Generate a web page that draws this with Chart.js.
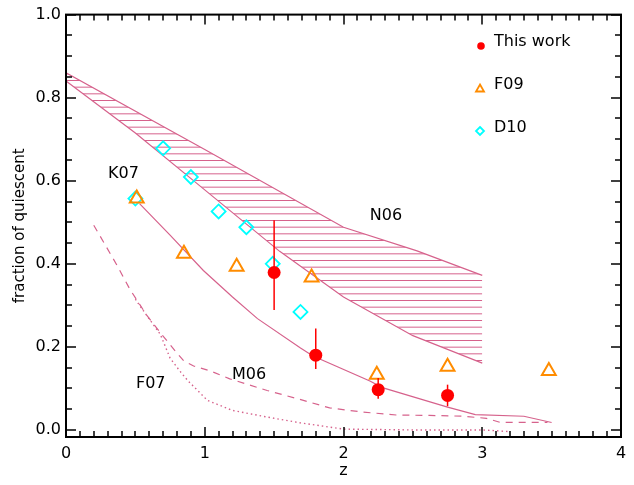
<!DOCTYPE html>
<html>
<head>
<meta charset="utf-8">
<script src="https://cdn.jsdelivr.net/npm/chart.js@4.4.0/dist/chart.umd.min.js"></script>
<style>
  html, body { margin: 0; padding: 0; background: #fff; }
</style>
</head>
<body>
<canvas id="chart" width="634" height="485"></canvas>
<script>
// Data
var xTicks = [0, 1, 2, 3, 4];
var yTicks = [0.0, 0.2, 0.4, 0.6, 0.8, 1.0];

// This work (filled red circles with error bars)
var workZ = [1.5, 1.8, 2.25, 2.75];
var workF = [0.379, 0.18, 0.097, 0.083];
var workLo = [0.289, 0.147, 0.075, 0.057];
var workHi = [0.505, 0.244, 0.125, 0.109];

// F09 (open triangles)
var f09Z = [0.51, 0.85, 1.23, 1.77, 2.24, 2.75, 3.48];
var f09F = [0.557, 0.424, 0.393, 0.367, 0.133, 0.152, 0.142];

// D10 (open diamonds)
var d10Z = [0.5, 0.7, 0.9, 1.1, 1.3, 1.49, 1.69];
var d10F = [0.557, 0.678, 0.609, 0.526, 0.488, 0.40, 0.284];

// N06 hatched band
var n06UpZ = [0, 1, 2, 2.53, 3];
var n06UpF = [0.86, 0.675, 0.488, 0.431, 0.372];
var n06LoZ = [0, 0.5, 1, 1.54, 2, 2.5, 3];
var n06LoF = [0.84, 0.715, 0.578, 0.43, 0.32, 0.227, 0.161];

// K07 solid curve
var k07Z = [0.53, 0.75, 0.99, 1.2, 1.38, 1.69, 1.78, 2.19, 2.28, 2.75, 2.95, 3.3, 3.5];
var k07F = [0.545, 0.469, 0.384, 0.32, 0.268, 0.197, 0.178, 0.118, 0.102, 0.055, 0.037, 0.033, 0.018];

// M06 dashed curve
var m06Z = [0.2, 0.37, 0.46, 0.58, 0.69, 0.8, 0.85, 0.92, 1.04, 1.18, 1.45, 1.66, 1.9, 2.14, 2.38, 2.62, 2.86, 3.03, 3.13, 3.47];
var m06F = [0.493, 0.395, 0.339, 0.277, 0.23, 0.185, 0.166, 0.154, 0.142, 0.123, 0.095, 0.076, 0.053, 0.043, 0.036, 0.035, 0.033, 0.028, 0.018, 0.018];

// F07 dotted curve
var f07Z = [0.5, 0.53, 0.68, 0.75, 0.82, 0.88, 1.02, 1.2, 1.45, 1.69, 2.0, 2.5, 3.0, 3.2];
var f07F = [0.315, 0.30, 0.23, 0.173, 0.142, 0.118, 0.071, 0.047, 0.031, 0.017, 0.002, 0.0, 0.0, -0.004];

// curve labels
var curveNames = ['K07', 'N06', 'F07', 'M06'];
var curveNameZ = [0.303, 2.19, 0.504, 1.196];
var curveNameF = [0.607, 0.505, 0.102, 0.123];

var pink = 'rgb(214,98,140)';
var orange = '#ff8c00';
var cyan = '#00ffff';
var red = '#ff0000';
var font = "'DejaVu Sans', sans-serif";

function pts(xs, ys) {
  return xs.map(function (x, i) { return { x: x, y: ys[i] }; });
}

// horizontal hatch pattern
var pc = document.createElement('canvas');
pc.width = 10; pc.height = 20;
var pctx = pc.getContext('2d');
pctx.strokeStyle = pink;
pctx.lineWidth = 1;
[0.5, 7.17, 13.83].forEach(function (y) {
  pctx.beginPath(); pctx.moveTo(0, y); pctx.lineTo(10, y); pctx.stroke();
});
var hatch = pctx.createPattern(pc, 'repeat');

// inward ticks on all four sides + frame
var frame = {
  id: 'frame',
  afterDraw: function (c) {
    var ctx = c.ctx, a = c.chartArea, xs = c.scales.x, ys = c.scales.y;
    ctx.save();
    ctx.strokeStyle = '#000';
    ctx.lineWidth = 1.5;
    function ln(x1, y1, x2, y2) { ctx.beginPath(); ctx.moveTo(x1, y1); ctx.lineTo(x2, y2); ctx.stroke(); }
    for (var i = 0; i <= 40; i++) {
      var px = Math.round(xs.getPixelForValue(i / 10));
      var len = i % 10 === 0 ? 10 : 6;
      ln(px, a.bottom, px, a.bottom - len);
      ln(px, a.top, px, a.top + len);
    }
    for (var j = 0; j <= 20; j++) {
      var py = Math.round(ys.getPixelForValue(j * 0.05));
      var l2 = j % 4 === 0 ? 10 : 6;
      ln(a.left, py, a.left + l2, py);
      ln(a.right, py, a.right - l2, py);
    }
    ctx.lineWidth = 2;
    ctx.strokeRect(a.left, a.top, a.right - a.left, a.bottom - a.top);
    ctx.restore();
  }
};

// error bars, curve names and legend
var extras = {
  id: 'extras',
  afterDatasetsDraw: function (c) {
    var ctx = c.ctx, xs = c.scales.x, ys = c.scales.y;
    ctx.save();
    ctx.strokeStyle = red;
    ctx.lineWidth = 1.5;
    for (var i = 0; i < workZ.length; i++) {
      var px = xs.getPixelForValue(workZ[i]);
      ctx.beginPath();
      ctx.moveTo(px, ys.getPixelForValue(workLo[i]));
      ctx.lineTo(px, ys.getPixelForValue(workHi[i]));
      ctx.stroke();
    }
    ctx.fillStyle = '#000';
    ctx.font = '16px ' + font;
    ctx.textAlign = 'left';
    ctx.textBaseline = 'alphabetic';
    for (var k = 0; k < curveNames.length; k++) {
      ctx.fillText(curveNames[k], xs.getPixelForValue(curveNameZ[k]), ys.getPixelForValue(curveNameF[k]));
    }
    // legend
    var lx = 480, tx = 494;
    ctx.fillStyle = red;
    ctx.beginPath(); ctx.arc(lx + 1, 46, 3.8, 0, Math.PI * 2); ctx.fill();
    ctx.strokeStyle = orange; ctx.lineWidth = 1.8;
    ctx.beginPath(); ctx.moveTo(lx, 84.5); ctx.lineTo(lx + 4, 91.5); ctx.lineTo(lx - 4, 91.5); ctx.closePath(); ctx.stroke();
    ctx.strokeStyle = cyan; ctx.lineWidth = 1.8;
    ctx.beginPath(); ctx.moveTo(lx, 127); ctx.lineTo(lx + 4, 131); ctx.lineTo(lx, 135); ctx.lineTo(lx - 4, 131); ctx.closePath(); ctx.stroke();
    ctx.fillStyle = '#000';
    ctx.fillText('This work', tx, 46);
    ctx.fillText('F09', tx, 89);
    ctx.fillText('D10', tx, 132);
    ctx.restore();
  }
};

var ctx = document.getElementById('chart').getContext('2d');
var chart = new Chart(ctx, {
  type: 'scatter',
  data: {
    datasets: [
      { label: 'This work', data: pts(workZ, workF), pointStyle: 'circle', pointRadius: 6.5,
        backgroundColor: red, borderColor: red, borderWidth: 0, order: 0 },
      { label: 'F09', data: pts(f09Z, f09F), pointStyle: 'triangle', pointRadius: 8,
        backgroundColor: 'rgba(0,0,0,0)', borderColor: orange, borderWidth: 2, order: 1 },
      { label: 'D10', data: pts(d10Z, d10F), pointStyle: 'rectRot', pointRadius: 7,
        backgroundColor: 'rgba(0,0,0,0)', borderColor: cyan, borderWidth: 1.8, order: 2 },
      { label: 'N06 upper', data: pts(n06UpZ, n06UpF), showLine: true, pointRadius: 0,
        borderColor: pink, borderWidth: 1.2, fill: false, order: 5 },
      { label: 'N06 lower', data: pts(n06LoZ, n06LoF), showLine: true, pointRadius: 0,
        borderColor: pink, borderWidth: 1.2, fill: '-1', backgroundColor: hatch, order: 6 },
      { label: 'K07', data: pts(k07Z, k07F), showLine: true, pointRadius: 0,
        borderColor: pink, borderWidth: 1.2, order: 3 },
      { label: 'M06', data: pts(m06Z, m06F), showLine: true, pointRadius: 0,
        borderColor: pink, borderWidth: 1.2, borderDash: [7, 6], order: 3 },
      { label: 'F07', data: pts(f07Z, f07F), showLine: true, pointRadius: 0,
        borderColor: pink, borderWidth: 1.4, borderDash: [1.5, 3], order: 3 }
    ]
  },
  options: {
    responsive: false,
    animation: false,
    layout: { padding: { top: 8, right: 13, left: 0, bottom: 0 } },
    plugins: { legend: { display: false }, tooltip: { enabled: false } },
    scales: {
      x: {
        type: 'linear', min: 0, max: 4,
        grid: { display: false, drawTicks: false },
        border: { display: false },
        afterBuildTicks: function (s) { s.ticks = xTicks.map(function (v) { return { value: v }; }); },
        afterFit: function (s) { s.height = 48; },
        ticks: { color: '#000', font: { family: font, size: 16 }, padding: 7,
          callback: function (v) { return String(v); } },
        title: { display: true, text: 'z', color: '#000', font: { family: font, size: 16 },
          padding: { top: 0, bottom: 5 } }
      },
      y: {
        type: 'linear', min: -0.017, max: 1.0,
        grid: { display: false, drawTicks: false },
        border: { display: false },
        afterBuildTicks: function (s) { s.ticks = yTicks.map(function (v) { return { value: v }; }); },
        afterFit: function (s) { s.width = 66; },
        ticks: { color: '#000', font: { family: font, size: 16 }, padding: 5,
          callback: function (v) { return Number(v).toFixed(1); } },
        title: { display: true, text: 'fraction of quiescent', color: '#000',
          font: { family: font, size: 15 }, padding: { top: 11, bottom: 0 } }
      }
    }
  },
  plugins: [frame, extras]
});
</script>
</body>
</html>
